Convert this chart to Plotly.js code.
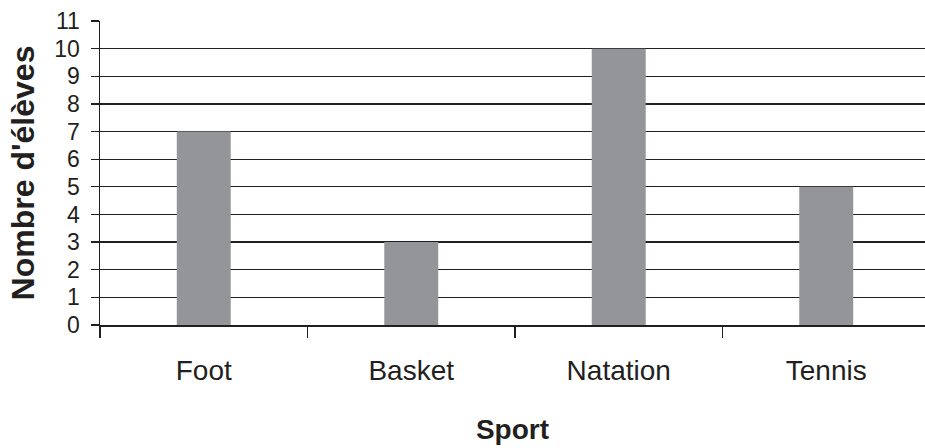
<!DOCTYPE html>
<html>
<head>
<meta charset="utf-8">
<script src="https://cdn.plot.ly/plotly-3.0.1.min.js"></script>
<style>html,body{margin:0;padding:0;background:#fff;}#chart{width:925px;height:448px;}</style>
</head>
<body>
<div id="chart"></div>
<script>
const categories = ["Foot", "Basket", "Natation", "Tennis"];
const eleves = [7, 3, 10, 5];
const yTicks = [0,1,2,3,4,5,6,7,8,9,10,11];

const trace = {
  type: "bar",
  x: categories,
  y: eleves,
  marker: {color: "#939598", line: {width: 0}},
  hoverinfo: "x+y"
};

const layout = {
  width: 925,
  height: 448,
  margin: {l: 100, r: 0, t: 21, b: 122.5},
  paper_bgcolor: "#ffffff",
  plot_bgcolor: "#ffffff",
  bargap: 0.74,
  showlegend: false,
  font: {family: "Liberation Sans, Arial, sans-serif", color: "#231f20"},
  xaxis: {
    type: "category",
    range: [-0.5, 3.476],
    showline: true, linecolor: "#231f20", linewidth: 1.5,
    showgrid: false,
    ticks: "outside", tickson: "boundaries", ticklen: 11, tickcolor: "#231f20", tickwidth: 1.2,
    tickfont: {size: 28, color: "#231f20"},
    ticklabelstandoff: 20,
    title: {text: "<b>Sport</b>", font: {size: 28, color: "#231f20"}, standoff: 34}
  },
  yaxis: {
    range: [0, 11],
    tickvals: yTicks,
    showline: true, linecolor: "#231f20", linewidth: 1.5,
    showgrid: true, gridcolor: "#231f20", gridwidth: 1.3,
    zeroline: false,
    ticks: "outside", ticklen: 8, tickcolor: "#231f20", tickwidth: 1.2,
    tickfont: {size: 23, color: "#231f20"},
    ticklabelstandoff: 6,
    title: {text: "<b>Nombre d'élèves</b>", font: {size: 32, color: "#231f20"}, standoff: 10}
  }
};

Plotly.newPlot("chart", [trace], layout, {displayModeBar: false, staticPlot: true});
</script>
</body>
</html>
